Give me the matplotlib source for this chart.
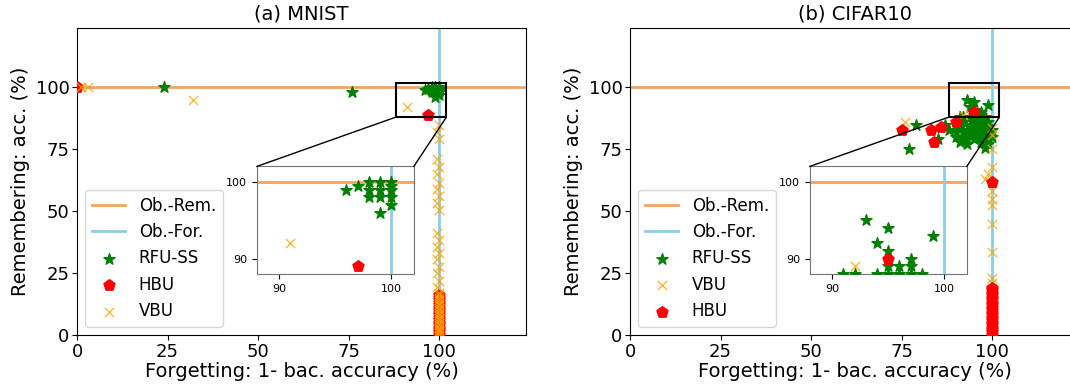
import matplotlib
matplotlib.use("Agg")
from matplotlib import pyplot as plt
from matplotlib.patches import Rectangle, ConnectionPatch

# ---- MNIST ----
rfu_mnist_x = [24, 76, 96, 98, 99, 100, 98, 99, 99, 100, 100, 100, 99, 100, 97, 98]
rfu_mnist_y = [100, 98, 99, 100, 100, 100, 98, 99, 98, 99, 98, 97, 96, 99.5, 99.5, 99]

hbu_mnist_x = [0, 97] + [100] * 17
hbu_mnist_y = [100, 89] + [0, 1, 2, 3, 4, 5, 6, 7, 8, 9, 10, 11, 12, 13, 14, 15, 16]

vbu_mnist_x = [1, 3, 32, 91] + [100, 99.5, 100, 99.5, 100, 99.5, 100, 99.5, 100, 99.5,
                                100, 99.5, 100, 99.5, 100, 99.5, 100, 99.5, 100, 99.5] + [100] * 18
vbu_mnist_y = [100, 100, 95, 92] + [85, 82, 79, 71, 68, 65, 61.5, 59, 56, 53.5,
                                    50.5, 41, 38.5, 35.5, 33, 30.5, 27.5, 25, 22, 19.5] + \
              [0, 1, 2, 3, 4, 5, 6, 7, 8, 9, 10, 11, 12, 13, 14, 15, 16, 17]

# ---- CIFAR10 ----
rfu_cifar_x = [77, 79, 85, 87, 91, 90, 90, 91, 92, 92, 93, 93, 94, 94, 95, 95, 95, 96, 96, 96,
               97, 97, 98, 98, 98, 99, 99, 92, 91, 94, 93, 97, 95, 96, 94, 92, 98, 100, 100, 99,
               99, 88, 93, 95, 94, 99, 95, 95, 91, 96, 97, 97, 98, 95, 96, 97]
rfu_cifar_y = [75, 85, 79, 85, 78, 80, 82, 84, 86, 80, 83, 79, 85, 81, 87, 83, 79, 86, 82, 80,
               84, 78, 86, 82, 75.5, 80, 84, 88, 87, 88, 77, 81, 85, 84, 83, 82, 79, 83, 80, 77,
               86, 83, 95, 94, 92, 93, 91, 89, 88, 89, 90, 89, 88, 88, 88, 88]

vbu_cifar_x = [76, 92, 98] + [100, 100, 100, 100, 99, 100, 100, 100, 100, 100, 100, 100] + [100] * 20
vbu_cifar_y = [86, 89, 63] + [83.5, 81, 75, 68, 65, 58, 55, 52.5, 45, 33.5, 23, 21] + \
              [0, 1, 2, 3, 4, 5, 6, 7, 8, 9, 10, 11, 12, 13, 14, 15, 16, 17, 18, 19]

hbu_cifar_x = [75, 83, 86, 84, 90, 95, 100] + [100] * 20
hbu_cifar_y = [83, 83, 84, 78, 86, 90, 62] + \
              [0, 1, 2, 3, 4, 5, 6, 7, 8, 9, 10, 11, 12, 13, 14, 15, 16, 17, 18, 19]

titles = ['(a) MNIST', '(b) CIFAR10']
ticks = [0, 25, 50, 75, 100]

REM_C = '#f4a460'
FOR_C = '#87ceeb'
FS = 13


def draw(ax, order, data):
    ax.axhline(100, color=REM_C, lw=2, label='Ob.-Rem.')
    ax.axvline(100, color=FOR_C, lw=2, label='Ob.-For.')
    for name in order:
        x, y = data[name]
        if name == 'RFU-SS':
            ax.scatter(x, y, marker='*', color='green', s=70, label=name, zorder=3)
        elif name == 'HBU':
            ax.scatter(x, y, marker='p', color='red', s=70, label=name, zorder=3)
        else:
            ax.scatter(x, y, marker='x', color='orange', s=45, linewidths=0.9,
                       alpha=0.85, label=name, zorder=3)


fig = plt.figure(figsize=(10.7, 3.85), dpi=100)
axes = [fig.add_axes([0.072, 0.13, 0.4196, 0.797]),
        fig.add_axes([0.5888, 0.13, 0.4196, 0.797])]

sets = [
    (['RFU-SS', 'HBU', 'VBU'], {'RFU-SS': (rfu_mnist_x, rfu_mnist_y),
                               'HBU': (hbu_mnist_x, hbu_mnist_y),
                               'VBU': (vbu_mnist_x, vbu_mnist_y)}),
    (['RFU-SS', 'VBU', 'HBU'], {'RFU-SS': (rfu_cifar_x, rfu_cifar_y),
                               'HBU': (hbu_cifar_x, hbu_cifar_y),
                               'VBU': (vbu_cifar_x, vbu_cifar_y)}),
]

for ax, title, (order, data) in zip(axes, titles, sets):
    draw(ax, order, data)
    ax.set_xlim(0, 124)
    ax.set_ylim(0, 124)
    ax.set_xticks(ticks)
    ax.set_yticks(ticks)
    ax.tick_params(labelsize=FS, pad=2)
    ax.set_title(title, fontsize=14)
    ax.set_xlabel('Forgetting: 1- bac. accuracy (%)', fontsize=14, labelpad=1)
    ax.set_ylabel('Remembering: acc. (%)', fontsize=14)
    ax.legend(loc='lower left', fontsize=12)

    # zoomed inset
    ins = ax.inset_axes([0.40, 0.199, 0.35, 0.35])
    draw(ins, order, data)
    ins.set_xlim(88, 102)
    ins.set_ylim(88, 102)
    ins.set_xticks([90, 100])
    ins.set_yticks([90, 100])
    ins.tick_params(labelsize=8)
    for sp in ins.spines.values():
        sp.set_color('0.45')

    ax.add_patch(Rectangle((88, 88), 14, 14, fill=False, edgecolor='black', lw=1.5, zorder=5))
    for xa, xb in [(0, 88), (1, 102)]:
        con = ConnectionPatch(xyA=(xa, 1), coordsA=ins.transAxes,
                              xyB=(xb, 88), coordsB=ax.transData,
                              color='black', lw=1)
        fig.add_artist(con)

fig.savefig('out.png', dpi=100)
